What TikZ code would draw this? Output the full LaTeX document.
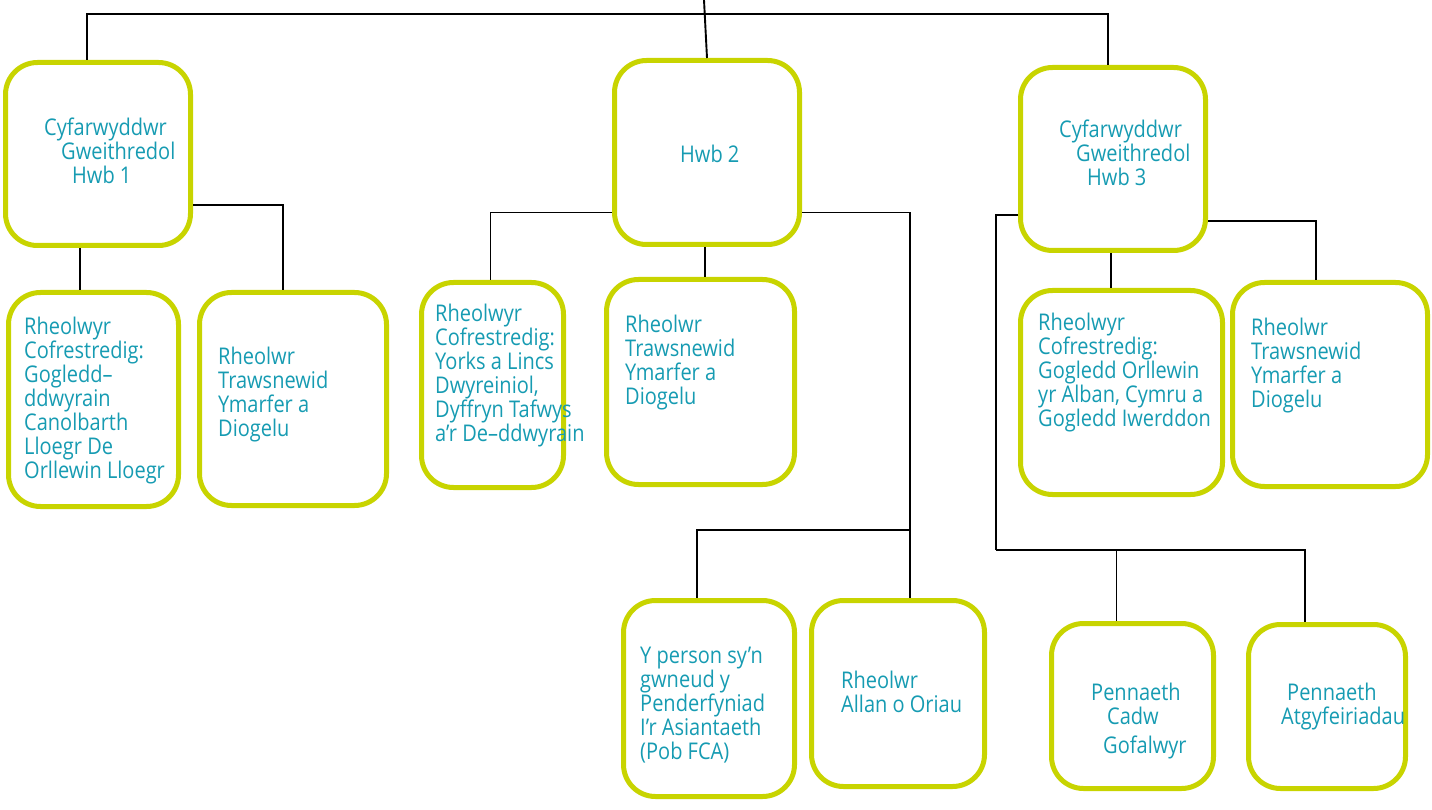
\documentclass[tikz,border=0pt]{standalone}
\usepackage{fontspec}
\setmainfont{Open Sans}[FakeStretch=0.87]
\definecolor{hubLime}{RGB}{200,212,0}
\definecolor{hubTeal}{RGB}{22,155,178}

\begin{document}
\begin{tikzpicture}
[x=1pt,y=-1pt,
  boxDecorate/.style={draw=hubLime,line width=5pt,rounded corners=32pt,inner sep=0pt},
  textDecorate/.style={anchor=base west,align=left,inner sep=0pt,text=hubTeal,
    font=\fontsize{23}{24}\selectfont},
  lineDecorate/.style={-,line width=1.9pt}]
\useasboundingbox (0,0) rectangle (1432,810);
%% boxes
\foreach \nodename/\x/\y/\w/\h in {
  h1/98/154/185/183,
  h2/707/152.5/185/184,
  h3/1113/159/185/183,
  r1/93.5/399.5/170/214,
  r2/293/399/187/213,
  r3/492.5/385/142/205,
  r4/700.5/382/188/205,
  r5/1121.5/392.5/202/204,
  r6/1330/384.5/195/204,
  b1/709/698.5/171/196,
  b2/898/693.5/173/186,
  b3/1132.5/706/162/165,
  b4/1327/706.5/157/164}
{
  \node (\nodename) at (\x,\y) [boxDecorate,minimum width=\w pt,minimum height=\h pt] {};
}
%% texts (placed at the baseline of their last line)
\node (t1) at (44,184) [textDecorate] {Cyfarwyddwr\\\hspace*{17pt}Gweithredol\\\hspace*{28pt}Hwb 1};
\node (t2) at (680,163) [textDecorate] {Hwb 2};
\node (t3) at (1059,186) [textDecorate] {Cyfarwyddwr\\\hspace*{17pt}Gweithredol\\\hspace*{28pt}Hwb 3};
\node (t4) at (24,478) [textDecorate] {Rheolwyr\\Cofrestredig:\\Gogledd--\\ddwyrain\\Canolbarth\\Lloegr De\\Orllewin Lloegr};
\node (t5) at (218,436) [textDecorate] {Rheolwr\\Trawsnewid\\Ymarfer a\\Diogelu};
\node (t6) at (435,441) [textDecorate] {Rheolwyr\\Cofrestredig:\\Yorks a Lincs\\Dwyreiniol,\\Dyffryn Tafwys\\a’r De--ddwyrain};
\node (t7) at (625,404) [textDecorate] {Rheolwr\\Trawsnewid\\Ymarfer a\\Diogelu};
\node (t8) at (1038,426) [textDecorate] {Rheolwyr\\Cofrestredig:\\Gogledd Orllewin\\yr Alban, Cymru a\\Gogledd Iwerddon};
\node (t9) at (1251,407) [textDecorate] {Rheolwr\\Trawsnewid\\Ymarfer a\\Diogelu};
\node (t10) at (640,759) [textDecorate] {Y person sy’n\\gwneud y\\Penderfyniad\\I’r Asiantaeth\\(Pob FCA)};
\node (t11) at (841,712) [textDecorate] {Rheolwr\\Allan o Oriau};
\node (t12) at (1091,753) [textDecorate] {Pennaeth\\\hspace*{16pt}Cadw\\[5pt]\hspace*{12pt}Gofalwyr};
\node (t13) at (1281,724) [textDecorate] {\hspace*{6pt}Pennaeth\\Atgyfeiriadau};
%% connectors
\coordinate (root) at (704,0);
\coordinate (j0) at (704,14);
\coordinate (j2) at (910,530);
\coordinate (j3) at (996,550);
\draw[lineDecorate] (root) -- (h2.north);
\draw[lineDecorate] (j0) -| ([xshift=-11pt]h1.north);
\draw[lineDecorate] (j0) -| ([xshift=-5pt]h3.north);
% hub 1
\draw[lineDecorate] ([xshift=-18pt]h1.south) -- ([xshift=-18pt]h1.south |- r1.north);
\draw[lineDecorate] ([yshift=-51pt]h1.east) -| ([xshift=-10pt]r2.north);
% hub 2
\draw[lineDecorate] ([yshift=-60pt]h2.west) -| ([xshift=-2pt]r3.north);
\draw[lineDecorate] ([xshift=-2pt]h2.south) -- ([xshift=-2pt]h2.south |- r4.north);
\draw[lineDecorate] ([yshift=-60pt]h2.east) -| ([xshift=12pt]b2.north);
\draw[lineDecorate] (j2) -| ([xshift=-12pt]b1.north);
% hub 3
\draw[lineDecorate] ([xshift=-2pt]h3.south) -- ([xshift=-2pt]h3.south |- r5.north);
\draw[lineDecorate] ([yshift=-62pt]h3.east) -| ([xshift=-14pt]r6.north);
\draw[lineDecorate] ([yshift=-56pt]h3.west) -| (j3);
\draw[lineDecorate] (j3) -| ([xshift=-22pt]b4.north);
\draw[lineDecorate] ([xshift=-16pt]b3.north) -- ([xshift=-16pt]b3.north |- j3);
\end{tikzpicture}
\end{document}
